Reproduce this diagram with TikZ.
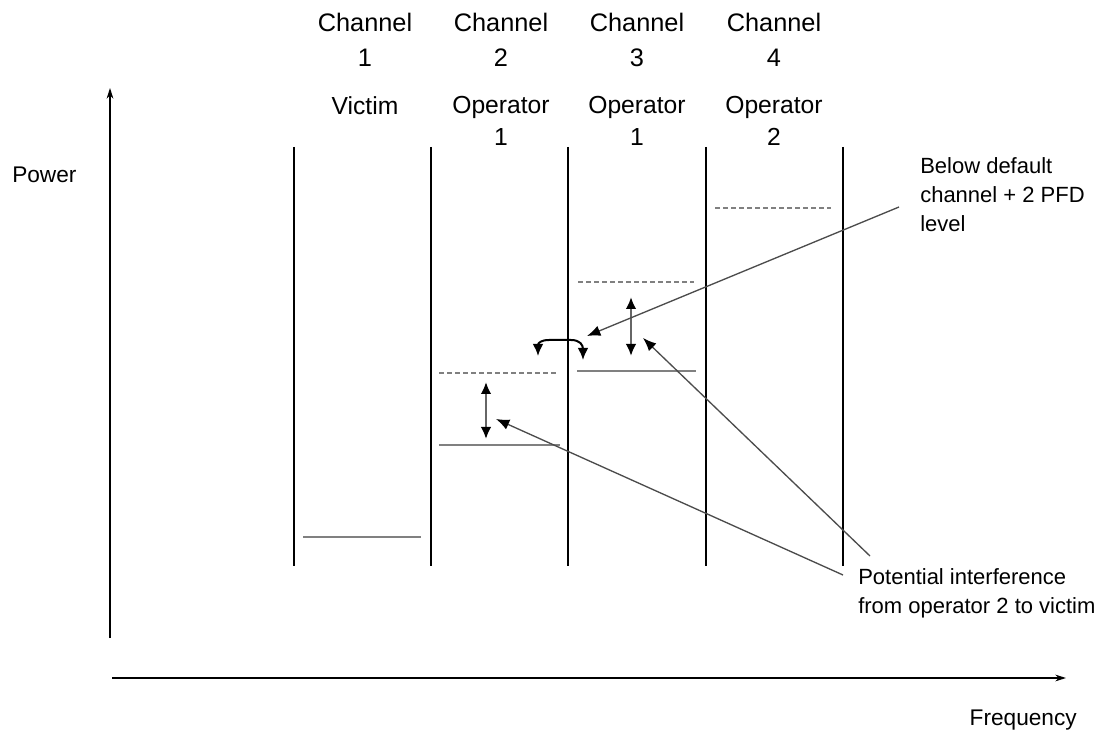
\documentclass[tikz,border=0pt]{standalone}
\usepackage{fontspec}
\setmainfont{Liberation Sans}
\usetikzlibrary{arrows.meta}
\begin{document}
\begin{tikzpicture}[x=0.75pt,y=-0.75pt,
  chlabel/.style={align=center,font=\fontsize{19}{26}\selectfont,inner sep=0pt},
  oplabel/.style={align=center,font=\fontsize{18.5}{24}\selectfont,inner sep=0pt},
  note/.style={align=left,font=\fontsize{16.5}{22}\selectfont,inner sep=0pt,anchor=north west},
  axis/.style={line width=0.9pt,-{Stealth[length=8pt,width=5pt]}},
  bound/.style={line width=0.9pt},
  level/.style={line width=2pt,draw=black!50},
  dlevel/.style={line width=1.8pt,draw=black!50,dash pattern=on 4pt off 2pt},
  dbl/.style={line width=2pt,draw=black!60,{Latex[length=9pt,width=8pt,color=black]}-{Latex[length=9pt,width=8pt,color=black]}},
  pointer/.style={line width=1pt,draw=black!70,-{Latex[length=10pt,width=8pt,color=black]}}]
\useasboundingbox (0,0) rectangle (1111,734);
% axes
\coordinate (yo) at (110,638);
\coordinate (yt) at (110,88);
\coordinate (xo) at (112,678);
\coordinate (xt) at (1066,678);
\draw[axis] (yo) -- (yt);
\draw[axis] (xo) -- (xt);
\node[anchor=west,font=\fontsize{17}{20}\selectfont,inner sep=0pt] (power) at (12,175) {Power};
\node[anchor=east,font=\fontsize{17}{20}\selectfont,inner sep=0pt] (freq) at (1077,720) {Frequency};
% channel boundaries
\foreach \x/\n in {294/a,431/b,568/c,706/d,843/e}{
  \coordinate (t\n) at (\x,147);
  \coordinate (b\n) at (\x,566);
  \draw[bound] (t\n) -- (b\n);
}
% channel labels
\node[chlabel] (ch1) at (365,40) {Channel\\1};
\node[chlabel] (ch2) at (501,40) {Channel\\2};
\node[chlabel] (ch3) at (637,40) {Channel\\3};
\node[chlabel] (ch4) at (774,40) {Channel\\4};
\node[oplabel] (vic) at (365,106) {Victim};
\node[oplabel] (op1a) at (501,121) {Operator\\1};
\node[oplabel] (op1b) at (637,121) {Operator\\1};
\node[oplabel] (op2) at (774,121) {Operator\\2};
% levels
\coordinate (v1) at (303,537); \coordinate (v2) at (421,537);
\draw[level] (v1) -- (v2);
\coordinate (s2a) at (439,445); \coordinate (s2b) at (560,445);
\draw[level] (s2a) -- (s2b);
\coordinate (d2a) at (439,373); \coordinate (d2b) at (556,373);
\draw[dlevel] (d2a) -- (d2b);
\coordinate (s3a) at (577,371); \coordinate (s3b) at (696,371);
\draw[level] (s3a) -- (s3b);
\coordinate (d3a) at (578,282); \coordinate (d3b) at (694,282);
\draw[dlevel] (d3a) -- (d3b);
\coordinate (d4a) at (715,208); \coordinate (d4b) at (831,208);
\draw[dlevel] (d4a) -- (d4b);
% double arrows
\coordinate (a2t) at (486,382); \coordinate (a2b) at (486,439);
\draw[dbl] (a2t) -- (a2b);
\coordinate (a3t) at (631,297); \coordinate (a3b) at (631,356);
\draw[dbl] (a3t) -- (a3b);
% curved arrow
\coordinate (cl) at (538,356);
\coordinate (cr) at (583,360);
\draw[line width=1.5pt,{Latex[length=9pt,width=8pt]}-{Latex[length=9pt,width=8pt]}]
  (cl) .. controls (538,343) and (541,340) .. (549,340) -- (571,340)
  .. controls (580,340) and (583,345) .. (cr);
% annotations
\node[note] (below) at (920,157) {Below default\\channel + 2 PFD\\level};
\node[note] (pot) at (858,568) {Potential interference\\from operator 2 to victim};
\coordinate (p1s) at (899,207); \coordinate (p1e) at (587,336);
\draw[pointer] (p1s) -- (p1e);
\coordinate (p2s) at (870,556); \coordinate (p2e) at (643,338);
\draw[pointer] (p2s) -- (p2e);
\coordinate (p3s) at (843,575); \coordinate (p3e) at (496,419);
\draw[pointer] (p3s) -- (p3e);
\end{tikzpicture}
\end{document}
